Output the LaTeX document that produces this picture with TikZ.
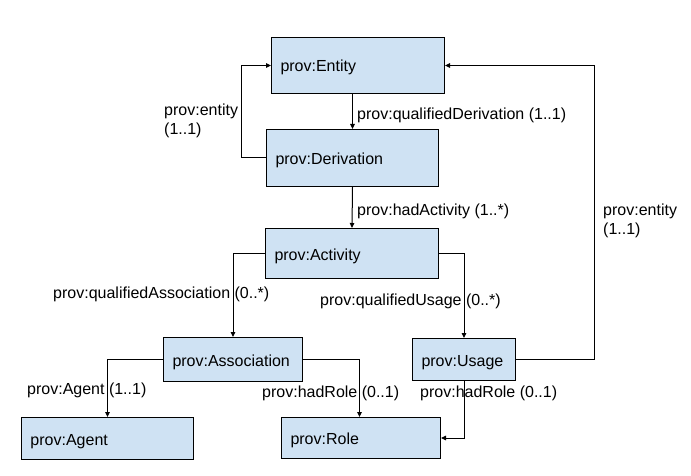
\documentclass[tikz,border=0pt]{standalone}
\usepackage{fontspec}
\setmainfont{Liberation Sans}
\usetikzlibrary{arrows.meta}
\definecolor{boxblue}{HTML}{CFE2F3}
\begin{document}
\begin{tikzpicture}[x=1pt,y=-1pt,
  font=\fontsize{16}{19}\selectfont,
  box/.style={draw=black, line width=1pt, fill=boxblue, anchor=north west,
    inner xsep=9pt, inner ysep=0pt, align=left, text height=16pt, text depth=3pt},
  lbl/.style={anchor=base west, inner sep=0pt, align=left},
  conn/.style={draw=black, line width=1pt, -{Triangle[length=5pt,width=4.5pt]}}]
\fill[white] (0,0) rectangle (691,476);
\useasboundingbox (0,0) rectangle (691,476);
% boxes
\node[box, minimum width=173pt, text width=155pt, minimum height=56pt] (ent) at (271,37) {prov:Entity};
\node[box, minimum width=172pt, text width=154pt, minimum height=57pt] (der) at (266,129) {prov:Derivation};
\node[box, minimum width=173pt, text width=155pt, minimum height=50pt] (act) at (265,228) {prov:Activity};
\node[box, minimum width=139pt, text width=121pt, minimum height=44pt] (asc) at (163,337) {prov:Association};
\node[box, minimum width=103pt, text width=85pt, minimum height=42pt] (use) at (412,338) {prov:Usage};
\node[box, minimum width=172pt, text width=154pt, minimum height=42pt] (agt) at (21,417) {prov:Agent};
\node[box, minimum width=159pt, text width=141pt, minimum height=41pt] (rol) at (281,417) {prov:Role};
% connectors
\draw[conn] (ent.south -| der.north) -- (der.north);
\draw[conn] (der.west) -- ++(-25,0) |- (ent.west);
\draw[conn] (der.south) -- (act.north);
\draw[conn] (act.west) -| (asc.north);
\draw[conn] (act.east) -| (use.north);
\draw[conn] (use.east) -- ++(78,0) |- (ent.east);
\draw[conn] (asc.west) -| (agt.north);
\draw[conn] (asc.east) -| ([xshift=-1.5pt]rol.north);
\draw[conn] (use.south) |- (rol.east);
% labels
\node[lbl] (l1) at (164,135) {prov:entity\\(1..1)};
\node[lbl] (l2) at (357,120) {prov:qualifiedDerivation (1..1)};
\node[lbl] (l3) at (357,215) {prov:hadActivity (1..*)};
\node[lbl] (l4) at (53,298) {prov:qualifiedAssociation (0..*)};
\node[lbl] (l5) at (320,305) {prov:qualifiedUsage (0..*)};
\node[lbl] (l6) at (603,234) {prov:entity\\(1..1)};
\node[lbl] (l7) at (27,394) {prov:Agent (1..1)};
\node[lbl] (l8) at (262,397) {prov:hadRole (0..1)};
\node[lbl] (l9) at (420,397) {prov:hadRole (0..1)};
\end{tikzpicture}
\end{document}
